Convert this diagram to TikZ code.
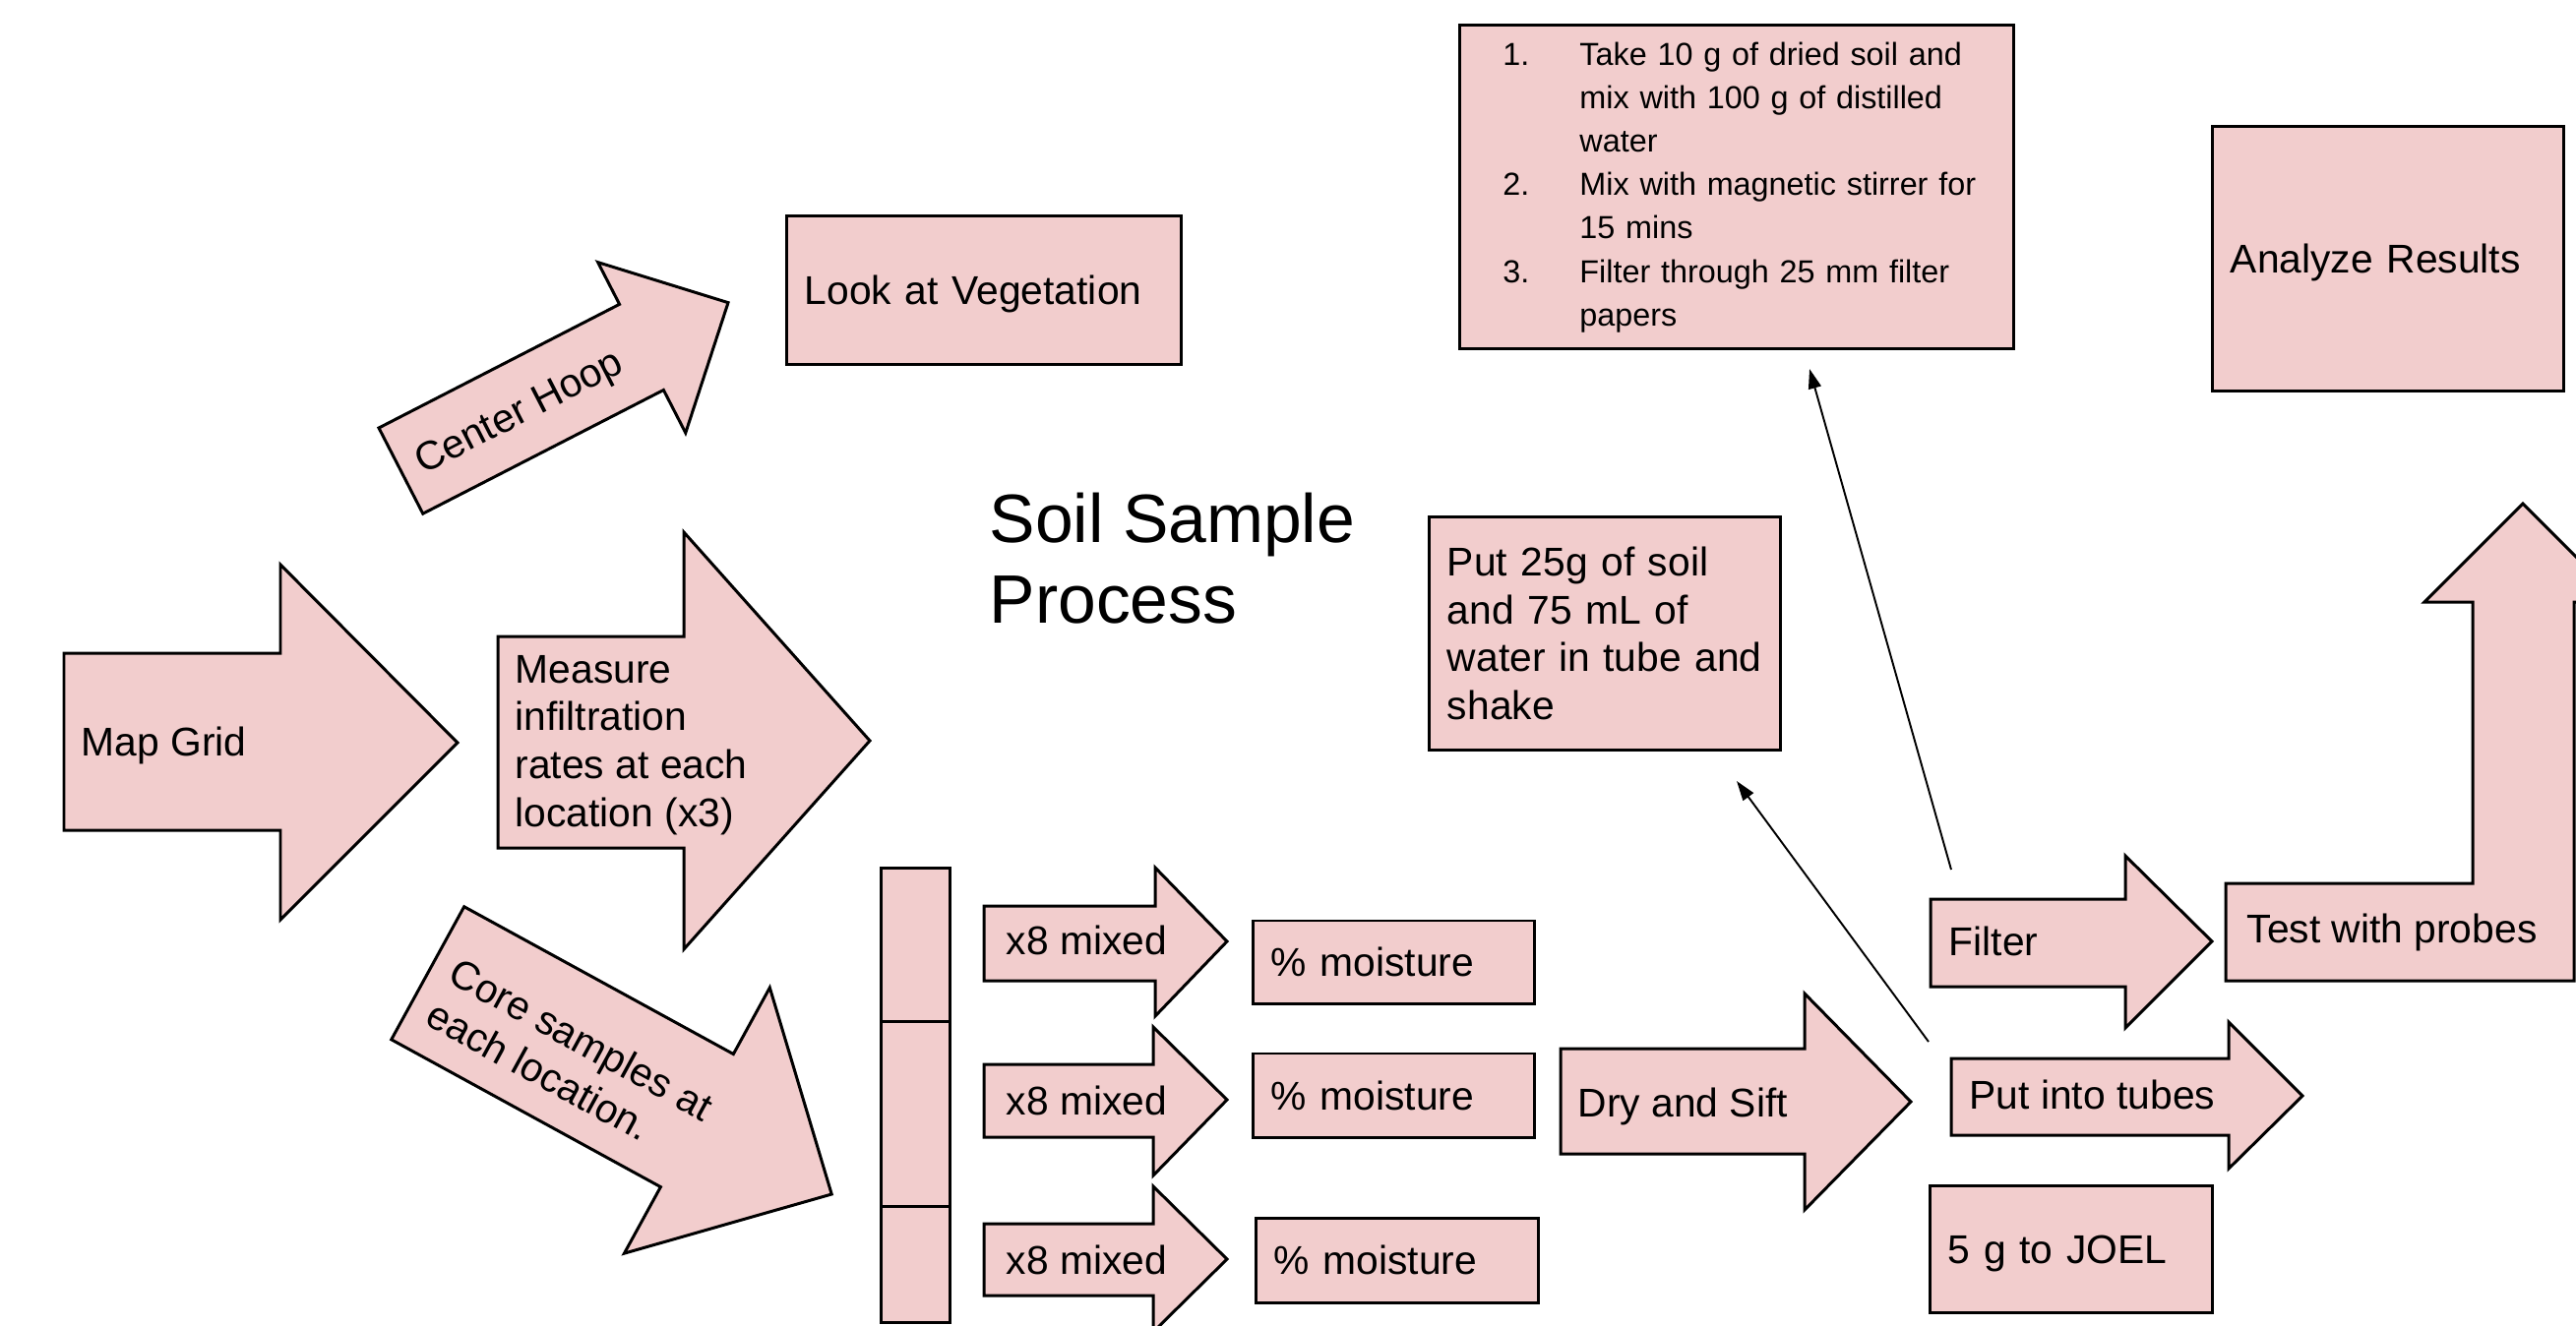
\documentclass[tikz,border=0pt]{standalone}
\usepackage{fontspec}
\setmainfont{Liberation Sans}
\usetikzlibrary{arrows.meta}
\definecolor{soil}{RGB}{242,205,205}
\tikzset{
  blk/.style={draw=black, fill=soil, line width=0.85pt},
  box/.style={blk, inner xsep=0.18cm, inner ysep=0pt, align=left, font=\fontsize{11.6pt}{13.8pt}\selectfont},
  one/.style={text height=8.3pt, text depth=0pt},
  lbl/.style={inner sep=0pt, anchor=base west, align=left, font=\fontsize{11.6pt}{13.8pt}\selectfont},
  conn/.style={line width=0.55pt, -{Triangle[length=0.2cm,width=0.13cm]}}
}
\begin{document}
\begin{tikzpicture}[x=0.01cm,y=-0.01cm]
\path[use as bounding box,clip] (0,0) rectangle (2618,1347);

\draw[blk] (65,664) -- (285,664) -- (285,574) -- (465,755) -- (285,935) -- (285,844) -- (65,844) -- cycle;
\node[lbl] (grid) at (82,768) {Map Grid};

\draw[blk] (506,647) -- (695,647) -- (695,541) -- (884,753) -- (695,965) -- (695,862) -- (506,862) -- cycle;
\node[lbl] (infil) at (523,840) {Measure\\infiltration\\rates at each\\location (x3)};

\begin{scope}[shift={(385,435)},rotate=27.2]
 \draw[blk] (0,0) -- (275,0) -- (275,-48) -- (374,49) -- (275,147) -- (275,98) -- (0,98) -- cycle;
 \node[lbl,transform shape] (hoop) at (18,63) {Center Hoop};
\end{scope}

\begin{scope}[shift={(471.7,921.7)},rotate=-28.7]
 \draw[blk] (0,0) -- (312,0) -- (312,-77) -- (468,77) -- (312,231) -- (312,154) -- (0,154) -- cycle;
 \node[lbl,transform shape] (core) at (20,124) {Core samples at\\each location.};
\end{scope}

\node[box,one,minimum height=1.5cm,text width=3.645cm] (veg) at (1000.25,295) {Look at Vegetation};

\node[lbl,font=\fontsize{19.8pt}{23.3pt}\selectfont] (title) at (1005,633) {Soil Sample\\Process};

% core tube and the three mixes
\draw[blk] (895,882) rectangle (965,1038);
\draw[blk] (895,1038) rectangle (965,1226);
\draw[blk] (895,1226) rectangle (965,1344);

\draw[blk] (1000,921) -- (1174,921) -- (1174,882) -- (1247,957) -- (1174,1033) -- (1174,997) -- (1000,997) -- cycle;
\draw[blk] (1000,1082) -- (1172,1082) -- (1172,1044) -- (1247,1118) -- (1172,1195) -- (1172,1156) -- (1000,1156) -- cycle;
\draw[blk] (1000,1244) -- (1172,1244) -- (1172,1206) -- (1247,1280) -- (1172,1354) -- (1172,1317) -- (1000,1317) -- cycle;
\node[lbl] (mix1) at (1022,970) {x8 mixed};
\node[lbl] (mix2) at (1022,1133) {x8 mixed};
\node[lbl] (mix3) at (1022,1295) {x8 mixed};

\node[box,one,minimum height=0.84cm,text width=2.49cm] (moist1) at (1416.5,978) {\% moisture};
\node[box,one,minimum height=0.85cm,text width=2.49cm] (moist2) at (1416.5,1113.5) {\% moisture};
\node[box,one,minimum height=0.86cm,text width=2.5cm] (moist3) at (1420,1281) {\% moisture};

\draw[blk] (1586,1066) -- (1834,1066) -- (1834,1010) -- (1942,1120) -- (1834,1230) -- (1834,1173) -- (1586,1173) -- cycle;
\node[lbl] (dry) at (1603,1135) {Dry and Sift};

\node[box,minimum height=2.36cm,text width=3.205cm] (shake) at (1631.25,644) {Put 25g of soil\\and 75 mL of\\water in tube and\\shake};

\node[box,inner xsep=0.44cm,text width=4.745cm,minimum height=3.28cm,font=\fontsize{9.2pt}{12.55pt}\selectfont] (steps) at (1764.75,190) {\begin{tabular}[t]{@{}p{0.78cm}@{}l@{}}
1. & Take 10 g of dried soil and\\
 & mix with 100 g of distilled\\
 & water\\
2. & Mix with magnetic stirrer for\\
 & 15 mins\\
3. & Filter through 25 mm filter\\
 & papers
\end{tabular}};

% right hand side
\draw[blk] (1962,914) -- (2160,914) -- (2160,870) -- (2248,957) -- (2160,1045) -- (2160,1003) -- (1962,1003) -- cycle;
\node[lbl] (filter) at (1980,971) {Filter};

\draw[blk] (1983,1076) -- (2265,1076) -- (2265,1039) -- (2340,1114) -- (2265,1188) -- (2265,1154) -- (1983,1154) -- cycle;
\node[lbl] (tubes) at (2001,1127) {Put into tubes};

\node[box,one,minimum height=1.285cm,text width=2.505cm] (joel) at (2105.25,1270.25) {5 g to JOEL};

\draw[blk] (2262,898) -- (2513,898) -- (2513,612) -- (2464,612) -- (2564,512) -- (2664,612) -- (2616,612) -- (2616,997) -- (2262,997) -- cycle;
\node[lbl] (probes) at (2283,958) {Test with probes};

\node[box,one,minimum height=2.68cm,text width=3.2cm] (results) at (2427,263) {Analyze Results};

\coordinate (tubesfoot) at (1960,1059);
\coordinate (shakefoot) at (1765,794);
\coordinate (filterfoot) at (1983,884);
\coordinate (stepsfoot) at (1839,375);
\draw[conn] (tubesfoot) -- (shakefoot);
\draw[conn] (filterfoot) -- (stepsfoot);
\end{tikzpicture}
\end{document}
